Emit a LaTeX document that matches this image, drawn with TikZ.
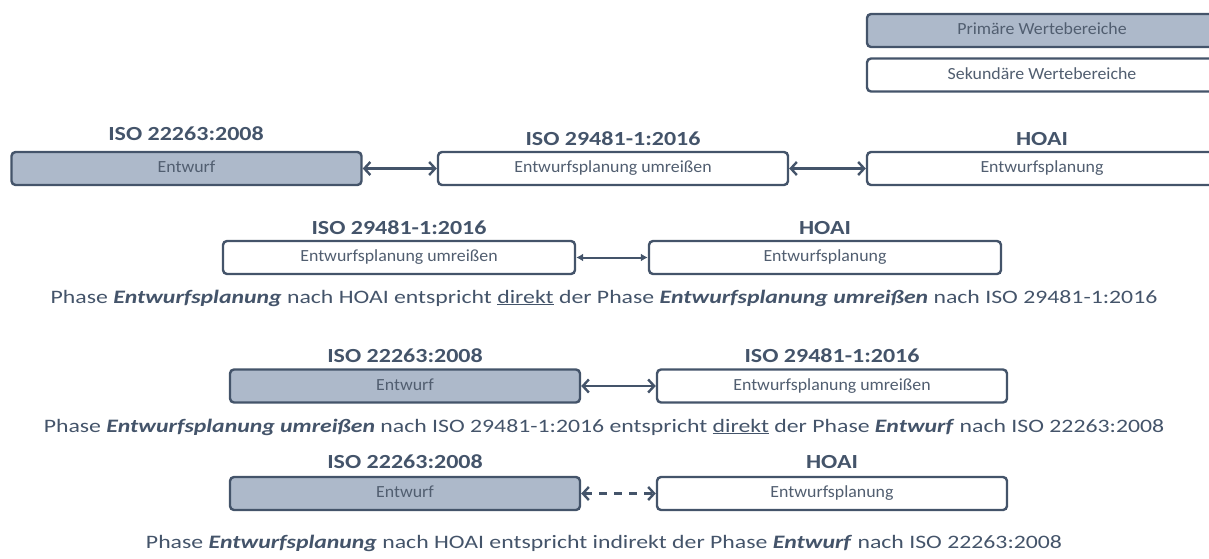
\documentclass[tikz,border=0pt]{standalone}
\usepackage{fontspec}
\setmainfont{Carlito}
\usetikzlibrary{arrows.meta}
\definecolor{slate}{HTML}{44546A}
\definecolor{slatefill}{HTML}{ADB9CA}
\definecolor{labelgray}{HTML}{515E70}
\begin{document}
\begin{tikzpicture}[x=1pt,y=-1pt,
  phase/.style={draw=slate, line width=2.4pt, rounded corners=4pt,
    minimum width=350pt, minimum height=33pt, inner sep=0pt,
    font=\fontsize{17}{20}\selectfont\addfontfeature{FakeStretch=1.05}, text=labelgray,
    text height=12pt, text depth=3.5pt},
  primary/.style={phase, fill=slatefill},
  secondary/.style={phase, fill=white},
  title/.style={font=\bfseries\fontsize{20}{24}\selectfont\addfontfeature{FakeStretch=1.2}, text=slate, anchor=base, inner sep=0pt},
  caption/.style={font=\fontsize{19}{22}\selectfont\addfontfeature{FakeStretch=1.25}, text=slate, anchor=base, inner sep=0pt},
  link/.style={draw=slate, line width=2.4pt,
    {Straight Barb[length=6pt,width=13pt]}-{Straight Barb[length=6pt,width=13pt]}},
  thinlink/.style={draw=slate, line width=2pt,
    {Latex[length=7pt,width=8pt]}-{Latex[length=7pt,width=8pt]}},
  dashlink/.style={link, dash pattern=on 8pt off 7pt},
]
\useasboundingbox (0,0) rectangle (1209,559);
\clip (0,0) rectangle (1209,559);

% legend
\node[primary] (legP) at (1042,30.5) {Primäre Wertebereiche};
\node[secondary] (legS) at (1042,75) {Sekundäre Wertebereiche};

% row 1
\node[title] (t1a) at (186,140) {ISO 22263:2008};
\node[title] (t1b) at (613,145) {ISO 29481-1:2016};
\node[title] (t1c) at (1042,145) {HOAI};
\node[primary] (r1a) at (186.5,168.5) {Entwurf};
\node[secondary] (r1b) at (613,168.5) {Entwurfsplanung umreißen};
\node[secondary] (r1c) at (1042,168.5) {Entwurfsplanung};
\draw[link] (r1a.east) -- (r1b.west);
\draw[link] (r1b.east) -- (r1c.west);

% row 2
\node[title] (t2a) at (399,234) {ISO 29481-1:2016};
\node[title] (t2b) at (825,234) {HOAI};
\node[secondary, minimum width=352pt] (r2a) at (399,257.5) {Entwurfsplanung umreißen};
\node[secondary, minimum width=352pt] (r2b) at (825,257.5) {Entwurfsplanung};
\draw[thinlink] (r2a.east) -- (r2b.west);
\node[caption] (c2) at (604,303) {Phase \textbf{\textit{Entwurfsplanung}} nach HOAI entspricht \underline{direkt} der Phase \textbf{\textit{Entwurfsplanung umreißen}} nach ISO 29481-1:2016};

% row 3
\node[title] (t3a) at (405,362) {ISO 22263:2008};
\node[title] (t3b) at (832,362) {ISO 29481-1:2016};
\node[primary] (r3a) at (405,386) {Entwurf};
\node[secondary] (r3b) at (832,386) {Entwurfsplanung umreißen};
\draw[link] (r3a.east) -- (r3b.west);
\node[caption] (c3) at (604,432) {Phase \textbf{\textit{Entwurfsplanung umreißen}} nach ISO 29481-1:2016 entspricht \underline{direkt} der Phase \textbf{\textit{Entwurf}} nach ISO 22263:2008};

% row 4
\node[title] (t4a) at (405,468) {ISO 22263:2008};
\node[title] (t4b) at (832,468) {HOAI};
\node[primary] (r4a) at (405,493.5) {Entwurf};
\node[secondary] (r4b) at (832,493.5) {Entwurfsplanung};
\draw[dashlink] (r4a.east) -- (r4b.west);
\node[caption] (c4) at (604,548) {Phase \textbf{\textit{Entwurfsplanung}} nach HOAI entspricht indirekt der Phase \textbf{\textit{Entwurf}} nach ISO 22263:2008};
\end{tikzpicture}
\end{document}
